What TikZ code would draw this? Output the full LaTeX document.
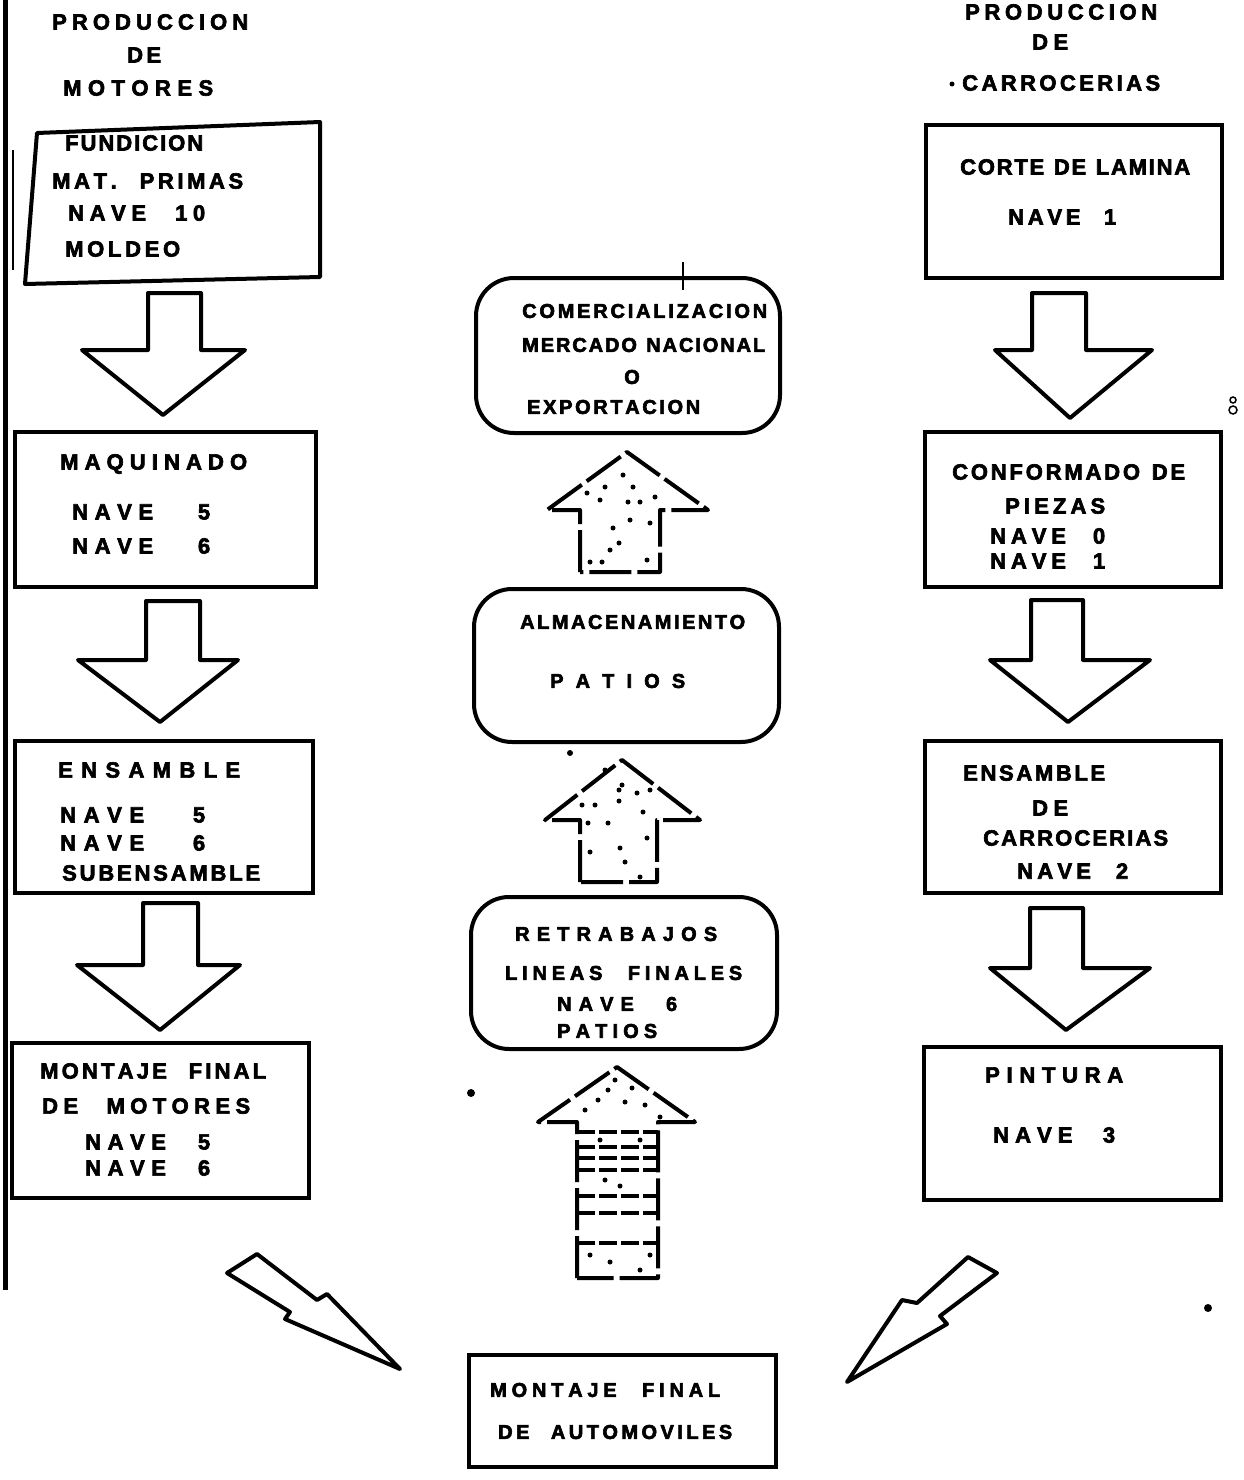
\documentclass[tikz,border=0pt]{standalone}
\usepackage{fontspec}
\setmainfont{Liberation Sans}
\newfontfamily\heavy{Liberation Sans Bold}[FakeBold=3]
\ExplSyntaxOn
\NewDocumentCommand\spread{mm}{\hbox_to_wd:nn {#1pt} { \tl_map_inline:nn {#2} { ##1 \hfil } \unskip }}
\ExplSyntaxOff
\begin{document}
\begin{tikzpicture}[x=1pt,y=-1pt,
  box/.style={draw,line width=4pt,rectangle,inner sep=0},
  rbox/.style={box,rounded corners=38pt},
  blk/.style={draw,line width=4pt,line join=round,fill=white},
  dots/.style={draw,line width=4pt,line join=round,dash pattern=on 42pt off 6pt},
  lt/.style={anchor=west,inner sep=0,font=\heavy\fontsize{22}{26}\selectfont},
  mt/.style={anchor=west,inner sep=0,font=\heavy\fontsize{20}{24}\selectfont},
  speck/.style={fill=black}]
\useasboundingbox (0,0) rectangle (1243,1480);
% left border
\draw[line width=5pt] (5,0) -- (5,1290);
\draw[line width=2pt] (13,150) -- (13,270);
% ---------- boxes ----------
\draw[line width=4pt,line join=round] (37,133) -- (320,122) -- (320,277) -- (25,284) -- cycle;
\node[box,minimum width=301,minimum height=155] (L2) at (165.5,509.5) {};
\node[box,minimum width=298,minimum height=152] (L3) at (164,817) {};
\node[box,minimum width=297,minimum height=155] (L4) at (160.5,1120.5) {};
\node[box,minimum width=296,minimum height=153] (R1) at (1074,201.5) {};
\node[box,minimum width=296,minimum height=155] (R2) at (1073,509.5) {};
\node[box,minimum width=296,minimum height=152] (R3) at (1073,817) {};
\node[box,minimum width=297,minimum height=153] (R4) at (1072.5,1123.5) {};
\node[rbox,minimum width=304,minimum height=155] (M1) at (628,355.5) {};
\node[rbox,minimum width=305,minimum height=153] (M2) at (626.5,665.5) {};
\node[rbox,minimum width=306,minimum height=152] (M3) at (624,973) {};
\node[box,minimum width=307,minimum height=112] (M4) at (622.5,1411) {};
\draw[line width=2pt] (683,262) -- (683,290);
% ---------- down block arrows ----------
\draw[blk] (148,293) -- (201,293) -- (201,350) -- (245,350) -- (163,415) -- (82,350) -- (148,350) -- cycle;
\draw[blk] (146,601) -- (200,601) -- (200,660) -- (238,660) -- (160,722) -- (78,660) -- (146,660) -- cycle;
\draw[blk] (143,903) -- (198,903) -- (198,965) -- (240,965) -- (160,1030) -- (77,965) -- (143,965) -- cycle;
\draw[blk] (1032,293) -- (1086,293) -- (1086,350) -- (1152,350) -- (1070,418) -- (995,350) -- (1032,350) -- cycle;
\draw[blk] (1031,600) -- (1083,600) -- (1083,660) -- (1150,660) -- (1068,722) -- (990,660) -- (1031,660) -- cycle;
\draw[blk] (1030,908) -- (1083,908) -- (1083,968) -- (1150,968) -- (1066,1030) -- (990,968) -- (1030,968) -- cycle;
% ---------- up stippled arrows ----------
\draw[dots] (580,572) -- (580,510) -- (547,510) -- (627,452) -- (708,510) -- (660,510) -- (660,572) -- cycle;
\foreach \p in {(623,475),(605,487),(633,487),(628,502),(640,502),(587,493),(613,528),(610,550),(619,543),(590,562),(602,562),(647,560),(650,523),(630,520),(600,500),(655,497)}
  \fill[speck] \p circle (2.5);
\draw[dots] (580,882) -- (580,820) -- (545,820) -- (622,760) -- (700,820) -- (657,820) -- (657,882) -- cycle;
\foreach \p in {(622,785),(619,790),(637,793),(619,801),(582,805),(595,805),(643,812),(588,823),(608,823),(620,848),(625,862),(590,852),(647,838),(640,877),(605,770),(650,790)}
  \fill[speck] \p circle (2.5);
\fill[speck] (570,753) circle (3);
\draw[dots] (577,1278) -- (577,1122) -- (538,1122) -- (617,1067) -- (695,1122) -- (658,1122) -- (658,1278) -- cycle;
\foreach \yy in {1132,1147,1158,1170,1196,1213,1243}
  \draw[line width=3.5pt,dash pattern=on 18pt off 4pt] (577,\yy) -- (658,\yy);
\foreach \p in {(615,1080),(608,1090),(632,1088),(598,1100),(625,1102),(645,1105),(585,1110),(660,1117),(600,1140),(640,1140),(605,1180),(620,1186),(590,1255),(610,1262),(640,1270),(650,1255)}
  \fill[speck] \p circle (2.5);
% ---------- lightning arrows ----------
\draw[blk] (227,1273) -- (257,1254) -- (317,1300) -- (327,1294) -- (400,1369) -- (285,1319) -- (290,1312) -- cycle;
\draw[blk] (968,1257) -- (997,1273) -- (940,1316) -- (947,1324) -- (847,1382) -- (902,1300) -- (917,1303) -- cycle;
% specks
\fill[speck] (471,1093) circle (4);
\fill[speck] (1208,1308) circle (4);
\fill[speck] (952,84) circle (2.5);
\draw[line width=1.5pt] (1233,400) circle (3) (1233,410) circle (4);
% ---------- texts ----------
\node[lt] (hl1) at (52,22) {\spread{196}{PRODUCCION}};
\node[lt] (hl2) at (127,55) {\spread{34}{DE}};
\node[lt] (hl3) at (63,88) {\spread{150}{MOTORES}};
\node[lt] (hr1) at (965,12) {\spread{192}{PRODUCCION}};
\node[lt] (hr2) at (1032,42) {\spread{36}{DE}};
\node[lt] (hr3) at (962,83) {\spread{198}{CARROCERIAS}};
% left boxes
\node[lt] (l11) at (65,143) {\spread{138}{FUNDICION}};
\node[lt] (l12) at (52,181) {\spread{191}{MAT.~~PRIMAS}};
\node[lt] (l13) at (68,213) {\spread{137}{NAVE~~10}};
\node[lt] (l14) at (65,249) {\spread{115}{MOLDEO}};
\node[lt] (l21) at (60,464) {\spread{187}{MAQUINADO}};
\node[lt] (l22) at (72,512) {\spread{138}{NAVE~~~5}};
\node[lt] (l23) at (72,546) {\spread{138}{NAVE~~~6}};
\node[lt] (l31) at (58,770) {\spread{182}{ENSAMBLE}};
\node[lt] (l32) at (60,815) {\spread{145}{NAVE~~~5}};
\node[lt] (l33) at (60,843) {\spread{145}{NAVE~~~6}};
\node[lt] (l34) at (62,873) {\spread{198}{SUBENSAMBLE}};
\node[lt] (l41) at (40,1071) {\spread{226}{MONTAJE~~FINAL}};
\node[lt] (l42) at (42,1106) {\spread{208}{DE~~MOTORES}};
\node[lt] (l43) at (85,1142) {\spread{125}{NAVE~~5}};
\node[lt] (l44) at (85,1168) {\spread{125}{NAVE~~6}};
% middle boxes
\node[mt] (m11) at (522,311) {\spread{245}{COMERCIALIZACION}};
\node[mt] (m12) at (522,345) {\spread{243}{MERCADO~NACIONAL}};
\node[mt,anchor=center] (m13) at (632,377) {O};
\node[mt] (m14) at (527,407) {\spread{173}{EXPORTACION}};
\node[mt] (m21) at (520,622) {\spread{225}{ALMACENAMIENTO}};
\node[mt] (m22) at (550,681) {\spread{135}{PATIOS}};
\node[mt] (m31) at (515,934) {\spread{202}{RETRABAJOS}};
\node[mt] (m32) at (505,973) {\spread{237}{LINEAS~~FINALES}};
\node[mt] (m33) at (557,1004) {\spread{120}{NAVE~~6}};
\node[mt] (m34) at (557,1031) {\spread{100}{PATIOS}};
\node[mt] (m41) at (490,1390) {\spread{230}{MONTAJE~~FINAL}};
\node[mt] (m42) at (498,1432) {\spread{234}{DE~~AUTOMOVILES}};
% right boxes
\node[lt] (r11) at (960,167) {\spread{230}{CORTE~DE~LAMINA}};
\node[lt] (r12) at (1008,217) {\spread{108}{NAVE~~1}};
\node[lt] (r21) at (952,472) {\spread{233}{CONFORMADO~DE}};
\node[lt] (r22) at (1005,506) {\spread{100}{PIEZAS}};
\node[lt] (r23) at (990,536) {\spread{115}{NAVE~~0}};
\node[lt] (r24) at (990,561) {\spread{115}{NAVE~~1}};
\node[lt] (r31) at (963,773) {\spread{142}{ENSAMBLE}};
\node[lt] (r32) at (1032,808) {\spread{36}{DE}};
\node[lt] (r33) at (983,838) {\spread{185}{CARROCERIAS}};
\node[lt] (r34) at (1017,871) {\spread{111}{NAVE~~2}};
\node[lt] (r41) at (985,1075) {\spread{138}{PINTURA}};
\node[lt] (r42) at (993,1135) {\spread{122}{NAVE~~3}};
\end{tikzpicture}
\end{document}
